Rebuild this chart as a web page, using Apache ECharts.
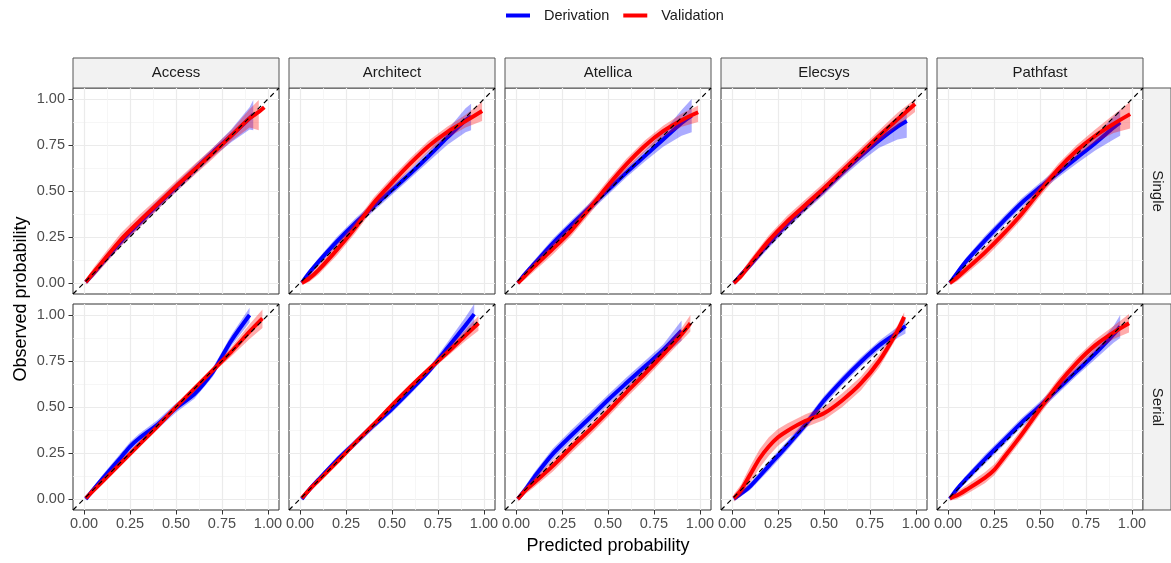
<!DOCTYPE html>
<html>
<head>
<meta charset="utf-8">
<script src="https://cdn.jsdelivr.net/npm/echarts@6.0.0/dist/echarts.min.js"></script>
<style>
html, body { margin: 0; padding: 0; background: #fff; }
#chart { width: 1171px; height: 563px; }
</style>
</head>
<body>
<div id="chart"></div>
<script>
var facets = ['Access', 'Architect', 'Atellica', 'Elecsys', 'Pathfast'];
var rows = ['Single', 'Serial'];
var groups = ['Derivation', 'Validation'];
var tickValues = [0, 0.25, 0.5, 0.75, 1];
var minorValues = [0.125, 0.375, 0.625, 0.875];
var axisMin = -0.06, axisMax = 1.06;

// each point: [predicted, observed, lower, upper]
var accessSingleDer = [
    [0.01, 0.005, -0.005, 0.015], [0.05, 0.05, 0.035, 0.065], [0.1, 0.11, 0.09, 0.13],
    [0.2, 0.225, 0.2, 0.25], [0.3, 0.325, 0.3, 0.35], [0.4, 0.425, 0.4, 0.45],
    [0.5, 0.52, 0.495, 0.545], [0.6, 0.615, 0.59, 0.64], [0.7, 0.71, 0.685, 0.735],
    [0.8, 0.8, 0.765, 0.835], [0.9, 0.895, 0.835, 0.955], [0.92, 0.915, 0.83, 0.995]
];
var accessSingleVal = [
    [0.01, 0.005, -0.01, 0.02], [0.05, 0.055, 0.03, 0.08], [0.1, 0.115, 0.085, 0.145],
    [0.2, 0.235, 0.2, 0.27], [0.3, 0.335, 0.3, 0.37], [0.4, 0.43, 0.4, 0.46],
    [0.5, 0.525, 0.495, 0.555], [0.6, 0.615, 0.585, 0.645], [0.7, 0.705, 0.675, 0.735],
    [0.8, 0.8, 0.77, 0.83], [0.9, 0.895, 0.845, 0.945], [0.95, 0.93, 0.83, 0.995],
    [0.98, 0.955, null, null]
];
var architectSingleDer = [
    [0.01, 0.0, -0.01, 0.01], [0.05, 0.055, 0.04, 0.07], [0.1, 0.115, 0.095, 0.135],
    [0.2, 0.225, 0.2, 0.25], [0.3, 0.325, 0.3, 0.35], [0.4, 0.415, 0.39, 0.44],
    [0.5, 0.505, 0.48, 0.53], [0.6, 0.595, 0.57, 0.62], [0.7, 0.69, 0.66, 0.72],
    [0.8, 0.79, 0.75, 0.83], [0.9, 0.885, 0.82, 0.95], [0.93, 0.905, 0.83, 0.975]
];
var architectSingleVal = [
    [0.01, 0.0, -0.01, 0.012], [0.05, 0.025, 0.005, 0.045], [0.1, 0.07, 0.045, 0.095],
    [0.2, 0.18, 0.15, 0.21], [0.3, 0.3, 0.27, 0.33], [0.4, 0.435, 0.405, 0.465],
    [0.5, 0.545, 0.515, 0.575], [0.6, 0.65, 0.62, 0.68], [0.7, 0.745, 0.715, 0.775],
    [0.8, 0.82, 0.79, 0.85], [0.9, 0.88, 0.845, 0.915], [0.99, 0.935, 0.88, 0.985]
];
var atellicaSingleDer = [
    [0.01, 0.0, -0.01, 0.01], [0.05, 0.05, 0.035, 0.065], [0.1, 0.105, 0.085, 0.125],
    [0.2, 0.215, 0.19, 0.24], [0.3, 0.315, 0.29, 0.34], [0.4, 0.41, 0.385, 0.435],
    [0.5, 0.505, 0.48, 0.53], [0.6, 0.6, 0.575, 0.625], [0.7, 0.69, 0.66, 0.72],
    [0.8, 0.78, 0.74, 0.82], [0.9, 0.87, 0.8, 0.94], [0.955, 0.91, 0.82, 1.0]
];
var atellicaSingleVal = [
    [0.01, 0.0, -0.01, 0.012], [0.05, 0.04, 0.02, 0.06], [0.1, 0.09, 0.065, 0.115],
    [0.2, 0.185, 0.155, 0.215], [0.3, 0.285, 0.255, 0.315], [0.4, 0.405, 0.375, 0.435],
    [0.5, 0.53, 0.5, 0.56], [0.6, 0.645, 0.615, 0.675], [0.7, 0.745, 0.715, 0.775],
    [0.8, 0.825, 0.795, 0.855], [0.9, 0.885, 0.85, 0.92], [0.99, 0.928, 0.875, 0.965]
];
var elecsysSingleDer = [
    [0.01, 0.0, -0.01, 0.01], [0.05, 0.045, 0.03, 0.06], [0.1, 0.1, 0.08, 0.12],
    [0.2, 0.215, 0.19, 0.24], [0.3, 0.32, 0.295, 0.345], [0.4, 0.415, 0.39, 0.44],
    [0.5, 0.505, 0.48, 0.53], [0.6, 0.6, 0.575, 0.625], [0.7, 0.69, 0.66, 0.72],
    [0.8, 0.775, 0.735, 0.815], [0.9, 0.85, 0.78, 0.905], [0.95, 0.88, 0.79, 0.935]
];
var elecsysSingleVal = [
    [0.01, 0.0, -0.012, 0.012], [0.05, 0.04, 0.02, 0.06], [0.1, 0.105, 0.08, 0.13],
    [0.2, 0.23, 0.2, 0.26], [0.3, 0.335, 0.305, 0.365], [0.4, 0.425, 0.395, 0.455],
    [0.5, 0.515, 0.485, 0.545], [0.6, 0.61, 0.58, 0.64], [0.7, 0.705, 0.675, 0.735],
    [0.8, 0.8, 0.77, 0.83], [0.9, 0.89, 0.855, 0.925], [0.995, 0.973, 0.93, 1.0]
];
var pathfastSingleDer = [
    [0.01, 0.0, -0.01, 0.01], [0.05, 0.055, 0.04, 0.07], [0.1, 0.12, 0.1, 0.14],
    [0.2, 0.23, 0.205, 0.255], [0.3, 0.335, 0.31, 0.36], [0.4, 0.435, 0.41, 0.46],
    [0.5, 0.52, 0.495, 0.545], [0.6, 0.6, 0.575, 0.625], [0.7, 0.68, 0.65, 0.71],
    [0.8, 0.76, 0.72, 0.8], [0.9, 0.845, 0.78, 0.905], [0.936, 0.873, 0.8, 0.94]
];
var pathfastSingleVal = [
    [0.01, 0.0, -0.012, 0.012], [0.05, 0.03, 0.01, 0.05], [0.1, 0.075, 0.05, 0.1],
    [0.2, 0.165, 0.135, 0.195], [0.3, 0.265, 0.235, 0.295], [0.4, 0.375, 0.345, 0.405],
    [0.5, 0.5, 0.47, 0.53], [0.6, 0.62, 0.59, 0.65], [0.7, 0.72, 0.69, 0.75],
    [0.8, 0.8, 0.765, 0.835], [0.9, 0.865, 0.815, 0.915], [0.99, 0.918, 0.84, 0.985]
];
var accessSerialDer = [
    [0.01, 0.0, -0.01, 0.01], [0.05, 0.05, 0.035, 0.065], [0.1, 0.11, 0.09, 0.13],
    [0.2, 0.225, 0.2, 0.25], [0.25, 0.285, 0.26, 0.31], [0.3, 0.33, 0.305, 0.355],
    [0.4, 0.405, 0.38, 0.43], [0.5, 0.495, 0.47, 0.52], [0.6, 0.57, 0.545, 0.595],
    [0.7, 0.69, 0.665, 0.715], [0.75, 0.775, 0.75, 0.8], [0.8, 0.86, 0.83, 0.89],
    [0.9, 1.0, 0.96, 1.04]
];
var accessSerialVal = [
    [0.01, 0.005, -0.005, 0.015], [0.05, 0.045, 0.03, 0.06], [0.1, 0.095, 0.08, 0.11],
    [0.2, 0.195, 0.18, 0.21], [0.3, 0.295, 0.28, 0.31], [0.4, 0.395, 0.38, 0.41],
    [0.5, 0.5, 0.485, 0.515], [0.6, 0.6, 0.585, 0.615], [0.7, 0.7, 0.685, 0.715],
    [0.8, 0.8, 0.775, 0.825], [0.9, 0.91, 0.87, 0.95], [0.97, 0.982, 0.93, 1.03]
];
var architectSerialDer = [
    [0.01, 0.0, -0.01, 0.01], [0.05, 0.05, 0.035, 0.065], [0.1, 0.105, 0.09, 0.12],
    [0.2, 0.21, 0.19, 0.23], [0.3, 0.305, 0.285, 0.325], [0.4, 0.4, 0.38, 0.42],
    [0.5, 0.49, 0.47, 0.51], [0.6, 0.59, 0.57, 0.61], [0.7, 0.695, 0.675, 0.715],
    [0.8, 0.82, 0.79, 0.85], [0.9, 0.945, 0.9, 0.99], [0.947, 1.005, 0.95, 1.06]
];
var architectSerialVal = [
    [0.01, 0.005, -0.005, 0.015], [0.05, 0.05, 0.035, 0.065], [0.1, 0.1, 0.085, 0.115],
    [0.2, 0.2, 0.185, 0.215], [0.3, 0.305, 0.29, 0.32], [0.4, 0.405, 0.39, 0.42],
    [0.5, 0.51, 0.495, 0.525], [0.6, 0.61, 0.595, 0.625], [0.7, 0.705, 0.69, 0.72],
    [0.8, 0.795, 0.775, 0.815], [0.9, 0.89, 0.86, 0.92], [0.97, 0.955, 0.915, 0.995]
];
var atellicaSerialDer = [
    [0.01, 0.0, -0.01, 0.01], [0.05, 0.05, 0.03, 0.07], [0.1, 0.12, 0.095, 0.145],
    [0.2, 0.245, 0.215, 0.275], [0.3, 0.345, 0.315, 0.375], [0.4, 0.44, 0.41, 0.47],
    [0.5, 0.538, 0.51, 0.566], [0.6, 0.63, 0.6, 0.66], [0.7, 0.72, 0.69, 0.75],
    [0.8, 0.81, 0.78, 0.84], [0.9, 0.915, 0.86, 0.97]
];
var atellicaSerialVal = [
    [0.01, 0.0, -0.015, 0.015], [0.05, 0.045, 0.025, 0.065], [0.1, 0.09, 0.065, 0.115],
    [0.2, 0.18, 0.15, 0.21], [0.3, 0.28, 0.25, 0.31], [0.4, 0.375, 0.345, 0.405],
    [0.5, 0.475, 0.445, 0.505], [0.6, 0.58, 0.55, 0.61], [0.7, 0.68, 0.65, 0.71],
    [0.8, 0.785, 0.755, 0.815], [0.9, 0.895, 0.86, 0.93], [0.948, 0.955, 0.91, 1.0]
];
var elecsysSerialDer = [
    [0.01, 0.0, -0.01, 0.01], [0.05, 0.03, 0.015, 0.045], [0.1, 0.07, 0.05, 0.09],
    [0.2, 0.18, 0.155, 0.205], [0.3, 0.29, 0.265, 0.315], [0.4, 0.405, 0.38, 0.43],
    [0.5, 0.535, 0.51, 0.56], [0.6, 0.645, 0.62, 0.67], [0.7, 0.745, 0.72, 0.77],
    [0.8, 0.835, 0.81, 0.86], [0.9, 0.905, 0.875, 0.935], [0.943, 0.94, 0.9, 0.98]
];
var elecsysSerialVal = [
    [0.01, 0.005, -0.015, 0.025], [0.05, 0.05, 0.02, 0.08], [0.1, 0.135, 0.09, 0.18],
    [0.15, 0.22, 0.17, 0.27], [0.2, 0.285, 0.235, 0.335], [0.25, 0.335, 0.29, 0.38],
    [0.3, 0.37, 0.33, 0.41], [0.4, 0.425, 0.39, 0.46], [0.5, 0.466, 0.43, 0.5],
    [0.6, 0.537, 0.5, 0.575], [0.7, 0.628, 0.59, 0.665], [0.8, 0.75, 0.715, 0.785],
    [0.9, 0.915, 0.885, 0.945], [0.936, 0.99, 0.965, 1.015]
];
var pathfastSerialDer = [
    [0.01, 0.0, -0.01, 0.01], [0.05, 0.055, 0.04, 0.07], [0.1, 0.11, 0.09, 0.13],
    [0.2, 0.215, 0.19, 0.24], [0.3, 0.315, 0.29, 0.34], [0.4, 0.415, 0.39, 0.44],
    [0.5, 0.505, 0.48, 0.53], [0.6, 0.6, 0.575, 0.625], [0.7, 0.695, 0.67, 0.72],
    [0.8, 0.79, 0.76, 0.82], [0.9, 0.895, 0.85, 0.94], [0.936, 0.937, 0.875, 1.0]
];
var pathfastSerialVal = [
    [0.01, 0.005, -0.01, 0.02], [0.05, 0.02, 0.0, 0.04], [0.1, 0.05, 0.025, 0.075],
    [0.2, 0.115, 0.085, 0.145], [0.25, 0.157, 0.127, 0.187], [0.3, 0.22, 0.19, 0.25],
    [0.4, 0.35, 0.32, 0.38], [0.5, 0.49, 0.46, 0.52], [0.6, 0.625, 0.595, 0.655],
    [0.7, 0.74, 0.71, 0.77], [0.8, 0.835, 0.805, 0.865], [0.9, 0.905, 0.87, 0.94],
    [0.984, 0.955, 0.905, 1.005]
];

var curves = {
    Single: {
        Access: [accessSingleDer, accessSingleVal],
        Architect: [architectSingleDer, architectSingleVal],
        Atellica: [atellicaSingleDer, atellicaSingleVal],
        Elecsys: [elecsysSingleDer, elecsysSingleVal],
        Pathfast: [pathfastSingleDer, pathfastSingleVal]
    },
    Serial: {
        Access: [accessSerialDer, accessSerialVal],
        Architect: [architectSerialDer, architectSerialVal],
        Atellica: [atellicaSerialDer, atellicaSerialVal],
        Elecsys: [elecsysSerialDer, elecsysSerialVal],
        Pathfast: [pathfastSerialDer, pathfastSerialVal]
    }
};

var lineColors = ['#0000FF', '#FF0000'];
var bandColors = ['rgba(0,0,255,0.33)', 'rgba(255,0,0,0.33)'];
var font = '"Liberation Sans", Arial, sans-serif';
var lefts = [73, 289, 505, 721, 937];
var tops = [88, 304];
var size = 206;
var stripH = 30, stripW = 28;

function makeAxis(dim, g, labelled, minor) {
    return {
        type: 'value',
        gridIndex: g,
        min: axisMin,
        max: axisMax,
        position: dim === 'x' ? (minor ? 'top' : 'bottom') : (minor ? 'right' : 'left'),
        axisLine: { show: false, onZero: false },
        axisTick: {
            show: labelled,
            length: 4.5,
            lineStyle: { color: '#333', width: 1 },
            customValues: minor ? minorValues : tickValues
        },
        axisLabel: {
            show: labelled,
            customValues: tickValues,
            formatter: function (v) { return v.toFixed(2); },
            color: '#4D4D4D',
            fontSize: 14.5,
            fontFamily: font,
            margin: dim === 'x' ? 6 : 8
        },
        splitLine: {
            show: true,
            lineStyle: { color: minor ? '#F4F4F4' : '#EBEBEB', width: minor ? 0.8 : 1.2 }
        }
    };
}

var grids = [], xAxes = [], yAxes = [], series = [], graphics = [];

rows.forEach(function (row, r) {
    facets.forEach(function (facet, c) {
        var g = grids.length;
        grids.push({
            left: lefts[c], top: tops[r], width: size, height: size,
            show: true, backgroundColor: '#fff', borderColor: '#333', borderWidth: 1
        });
        xAxes.push(makeAxis('x', g, r === rows.length - 1, false));
        xAxes.push(makeAxis('x', g, false, true));
        yAxes.push(makeAxis('y', g, c === 0, false));
        yAxes.push(makeAxis('y', g, false, true));
        var ax = 2 * g;

        curves[row][facet].forEach(function (pts, k) {
            var band = pts.filter(function (p) { return p[2] != null; });
            series.push({
                type: 'custom',
                name: groups[k] + ' band',
                xAxisIndex: ax,
                yAxisIndex: ax,
                clip: true,
                silent: true,
                z: 2 + 2 * k,
                data: band.map(function (p) { return [p[0], p[2], p[3]]; }),
                renderItem: function (params, api) {
                    if (params.dataIndex !== 0) return null;
                    var lower = band.map(function (p) { return api.coord([p[0], p[2]]); });
                    var upper = band.map(function (p) { return api.coord([p[0], p[3]]); }).reverse();
                    return {
                        type: 'polygon',
                        shape: { points: lower.concat(upper) },
                        style: { fill: bandColors[k] }
                    };
                }
            });
            series.push({
                type: 'line',
                name: groups[k],
                xAxisIndex: ax,
                yAxisIndex: ax,
                z: 3 + 2 * k,
                silent: true,
                showSymbol: false,
                smooth: 0.3,
                color: lineColors[k],
                lineStyle: { width: 4, color: lineColors[k] },
                data: pts.map(function (p) { return [p[0], p[1]]; })
            });
        });

        // reference line y = x across the panel
        series.push({
            type: 'line',
            name: 'identity',
            xAxisIndex: ax,
            yAxisIndex: ax,
            z: 8,
            silent: true,
            showSymbol: false,
            lineStyle: { color: '#000', width: 1.2, type: [5, 4] },
            data: [[axisMin, axisMin], [axisMax, axisMax]]
        });
    });
});

// facet strips
facets.forEach(function (facet, c) {
    graphics.push({
        type: 'rect',
        shape: { x: lefts[c], y: tops[0] - stripH, width: size, height: stripH },
        style: { fill: '#F2F2F2', stroke: '#555', lineWidth: 1 }
    });
    graphics.push({
        type: 'text',
        x: lefts[c] + size / 2,
        y: tops[0] - stripH / 2,
        style: { text: facet, fill: '#1A1A1A', font: '15px ' + font, align: 'center', verticalAlign: 'middle' }
    });
});
rows.forEach(function (row, r) {
    var x0 = lefts[lefts.length - 1] + size;
    graphics.push({
        type: 'rect',
        shape: { x: x0, y: tops[r], width: stripW, height: size },
        style: { fill: '#F2F2F2', stroke: '#555', lineWidth: 1 }
    });
    graphics.push({
        type: 'text',
        x: x0 + stripW / 2,
        y: tops[r] + size / 2,
        rotation: -Math.PI / 2,
        style: { text: row, fill: '#1A1A1A', font: '15px ' + font, align: 'center', verticalAlign: 'middle' }
    });
});

// axis titles
graphics.push({
    type: 'text',
    x: 21,
    y: tops[0] + (tops[1] + size - tops[0]) / 2,
    rotation: Math.PI / 2,
    style: { text: 'Observed probability', fill: '#000', font: '18px ' + font, align: 'center', verticalAlign: 'middle' }
});
graphics.push({
    type: 'text',
    x: (lefts[0] + lefts[lefts.length - 1] + size) / 2,
    y: 546,
    style: { text: 'Predicted probability', fill: '#000', font: '18px ' + font, align: 'center', verticalAlign: 'middle' }
});

var myChart = echarts.init(document.getElementById('chart'));
var option = {
    animation: false,
    backgroundColor: '#fff',
    legend: {
        data: groups,
        left: 506,
        top: 8,
        padding: 0,
        icon: 'rect',
        itemWidth: 24,
        itemHeight: 4,
        itemGap: 14,
        selectedMode: false,
        textStyle: { fontSize: 14.5, color: '#1A1A1A', fontFamily: font, padding: [0, 0, 0, 9] }
    },
    grid: grids,
    xAxis: xAxes,
    yAxis: yAxes,
    series: series,
    graphic: graphics
};
myChart.setOption(option);
</script>
</body>
</html>
